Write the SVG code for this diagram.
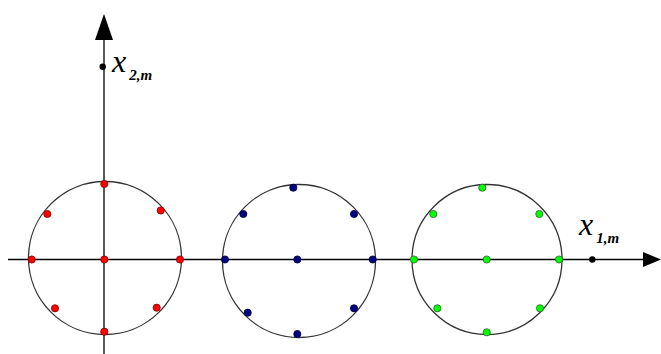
<svg xmlns="http://www.w3.org/2000/svg" width="661" height="354" viewBox="0 0 661 354">
<style>
.ax{stroke:#000;stroke-width:1.3;fill:none}
.ring{stroke:#333;stroke-width:1.3;fill:none}
.r{fill:#ff0000;stroke:#800000;stroke-width:0.8}
.b{fill:#000080;stroke:#000040;stroke-width:0.8}
.g{fill:#00ff00;stroke:#306030;stroke-width:0.8}
.k{fill:#000}
.lx{font-family:"Liberation Serif",serif;font-style:italic;font-size:32px;fill:#000}
.ls{font-family:"Liberation Serif",serif;font-style:italic;font-weight:bold;font-size:15px;fill:#000}
</style>
<rect width="661" height="354" fill="#fff"/>
<g id="axes">
<line class="ax" x1="8" y1="259.5" x2="645" y2="259.5"/>
<polygon class="k" points="643,252 661,259.5 643,267"/>
<line class="ax" x1="104" y1="38" x2="104" y2="354"/>
<polygon class="k" points="104,14 95,40 113,40"/>
</g>
<g id="cluster-red">
<circle class="ring" cx="105" cy="258" r="76.5"/>
<circle class="r" cx="104.3" cy="184" r="3.6"/>
<circle class="r" cx="47.3" cy="214" r="3.6"/>
<circle class="r" cx="160.7" cy="210.5" r="3.6"/>
<circle class="r" cx="31.7" cy="259.5" r="3.6"/>
<circle class="r" cx="104.3" cy="259.5" r="3.6"/>
<circle class="r" cx="180" cy="259.5" r="3.6"/>
<circle class="r" cx="55" cy="308.3" r="3.6"/>
<circle class="r" cx="156.7" cy="307.7" r="3.6"/>
<circle class="r" cx="104.3" cy="331.7" r="3.6"/>
</g>
<g id="cluster-blue">
<circle class="ring" cx="299" cy="261" r="76.5"/>
<circle class="b" cx="293.3" cy="187.7" r="3.6"/>
<circle class="b" cx="243.3" cy="214" r="3.6"/>
<circle class="b" cx="354" cy="214" r="3.6"/>
<circle class="b" cx="225" cy="259.5" r="3.6"/>
<circle class="b" cx="297.3" cy="259.5" r="3.6"/>
<circle class="b" cx="372.7" cy="259.5" r="3.6"/>
<circle class="b" cx="247.7" cy="312.7" r="3.6"/>
<circle class="b" cx="354" cy="308.3" r="3.6"/>
<circle class="b" cx="297.3" cy="334" r="3.6"/>
</g>
<g id="cluster-green">
<circle class="ring" cx="487" cy="259.5" r="75"/>
<circle class="g" cx="482.3" cy="187.7" r="3.6"/>
<circle class="g" cx="433.3" cy="214" r="3.6"/>
<circle class="g" cx="539.3" cy="214" r="3.6"/>
<circle class="g" cx="414" cy="259.5" r="3.6"/>
<circle class="g" cx="486.7" cy="259.5" r="3.6"/>
<circle class="g" cx="559" cy="259.5" r="3.6"/>
<circle class="g" cx="437.3" cy="308.3" r="3.6"/>
<circle class="g" cx="540" cy="308.3" r="3.6"/>
<circle class="g" cx="486.7" cy="332.3" r="3.6"/>
</g>
<g id="point-x2">
<circle class="k" cx="102.7" cy="66.7" r="3.2"/>
<text x="112" y="72"><tspan class="lx">x</tspan><tspan class="ls" dx="3" dy="8">2,m</tspan></text>
</g>
<g id="point-x1">
<circle class="k" cx="592.3" cy="259.5" r="3.2"/>
<text x="579" y="235"><tspan class="lx">x</tspan><tspan class="ls" dx="3" dy="8">1,m</tspan></text>
</g>
</svg>
